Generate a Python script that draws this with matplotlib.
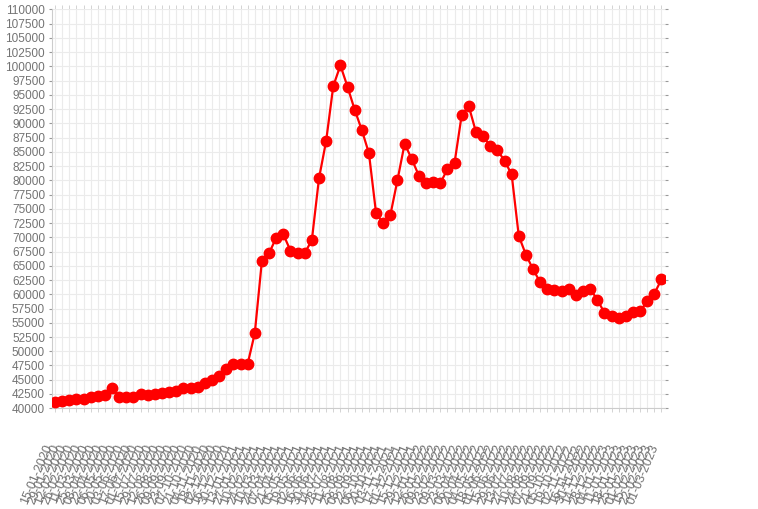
import matplotlib
matplotlib.use("Agg")
import matplotlib.pyplot as plt
from matplotlib.ticker import MultipleLocator

plt.rcParams['font.family'] = ['Liberation Sans', 'DejaVu Sans']

# tick labels (dates), one per data point
dates = [
    # 2020
    '15-01-2020', '29-01-2020', '12-02-2020', '26-02-2020', '11-03-2020', '25-03-2020',
    '08-04-2020', '22-04-2020', '06-05-2020', '20-05-2020', '03-06-2020', '17-06-2020',
    '01-07-2020', '15-07-2020', '29-07-2020', '12-08-2020', '26-08-2020', '09-09-2020',
    '23-09-2020', '07-10-2020', '21-10-2020', '04-11-2020', '18-11-2020', '02-12-2020',
    '16-12-2020', '30-12-2020',
    # 2021
    '13-01-2021', '27-01-2021', '10-02-2021', '24-02-2021', '10-03-2021', '24-03-2021',
    '07-04-2021', '21-04-2021', '05-05-2021', '19-05-2021', '02-06-2021', '16-06-2021',
    '30-06-2021', '14-07-2021', '28-07-2021', '11-08-2021', '25-08-2021', '08-09-2021',
    '22-09-2021', '06-10-2021', '20-10-2021', '03-11-2021', '17-11-2021', '01-12-2021',
    '15-12-2021', '29-12-2021',
    # 2022
    '12-01-2022', '26-01-2022', '09-02-2022', '23-02-2022', '09-03-2022', '23-03-2022',
    '06-04-2022', '20-04-2022', '04-05-2022', '18-05-2022', '01-06-2022', '15-06-2022',
    '29-06-2022', '13-07-2022', '27-07-2022', '10-08-2022', '24-08-2022', '07-09-2022',
    '21-09-2022', '05-10-2022', '19-10-2022', '02-11-2022', '16-11-2022', '30-11-2022',
    '14-12-2022', '28-12-2022',
    # 2023
    '04-01-2023', '11-01-2023', '18-01-2023', '25-01-2023', '01-02-2023', '15-02-2023',
    '22-02-2023', '01-03-2023',
]

values = [
    41160, 41280, 41460, 41580, 41680, 41930, 42160, 42330, 43510, 42040,
    41930, 42040, 42460, 42390, 42460, 42630, 42810, 43090, 43560, 43610,
    43790, 44490, 44960, 45610, 46930, 47680, 47770, 47770, 53160, 65900,
    67190, 69930, 70530, 67650, 67190, 67190, 69530, 80350, 86900, 96540,
    100180, 96420, 92390, 88830, 84740, 74210, 72510, 73910, 80050, 86420,
    83740, 80810, 79580, 79700, 79470, 81980, 83090, 91460, 92980, 88470,
    87720, 86020, 85320, 83440, 81050, 70230, 66950, 64390, 62110, 60930,
    60750, 60630, 60930, 59880, 60530, 60980, 59050, 56770, 56190, 55790,
    56250, 56840, 57020, 58770, 60110, 62630,
]

y_min, y_max, y_step = 40000, 110000, 2500

text_gray = '#737373'
grid_gray = '#ebebeb'

fig = plt.figure(figsize=(7.58, 5.09), dpi=100)
ax = fig.add_axes([0.0686, 0.198, 0.8084, 0.7835])

x = list(range(len(values)))
ax.plot(x, values, color='#ff0000', linewidth=1.6, marker='o',
        markersize=7.5, markerfacecolor='#ff0000', markeredgecolor='#ff0000',
        zorder=3)

ax.set_xlim(-0.42, len(values) - 1 + 0.46)
ax.set_ylim(y_min, y_max)
ax.yaxis.set_major_locator(MultipleLocator(y_step))
ax.set_xticks(x)
ax.set_xticklabels(dates, rotation=67, ha='right', rotation_mode='default')

ax.grid(True, color=grid_gray, linewidth=0.8, zorder=0)
ax.set_axisbelow(True)

ax.tick_params(axis='y', colors='#999999', labelsize=8.5, length=2, width=0.8,
               direction='out', pad=3, right=True)
ax.tick_params(axis='x', colors='#cccccc', labelsize=9, length=3, width=0.6,
               direction='out', pad=22, top=True)
for lab in ax.get_xticklabels() + ax.get_yticklabels():
    lab.set_color(text_gray)

for side in ['left', 'bottom']:
    ax.spines[side].set_color('#cccccc')
    ax.spines[side].set_linewidth(0.8)
for side in ['top', 'right']:
    ax.spines[side].set_visible(False)

fig.savefig('out.png', dpi=100)
